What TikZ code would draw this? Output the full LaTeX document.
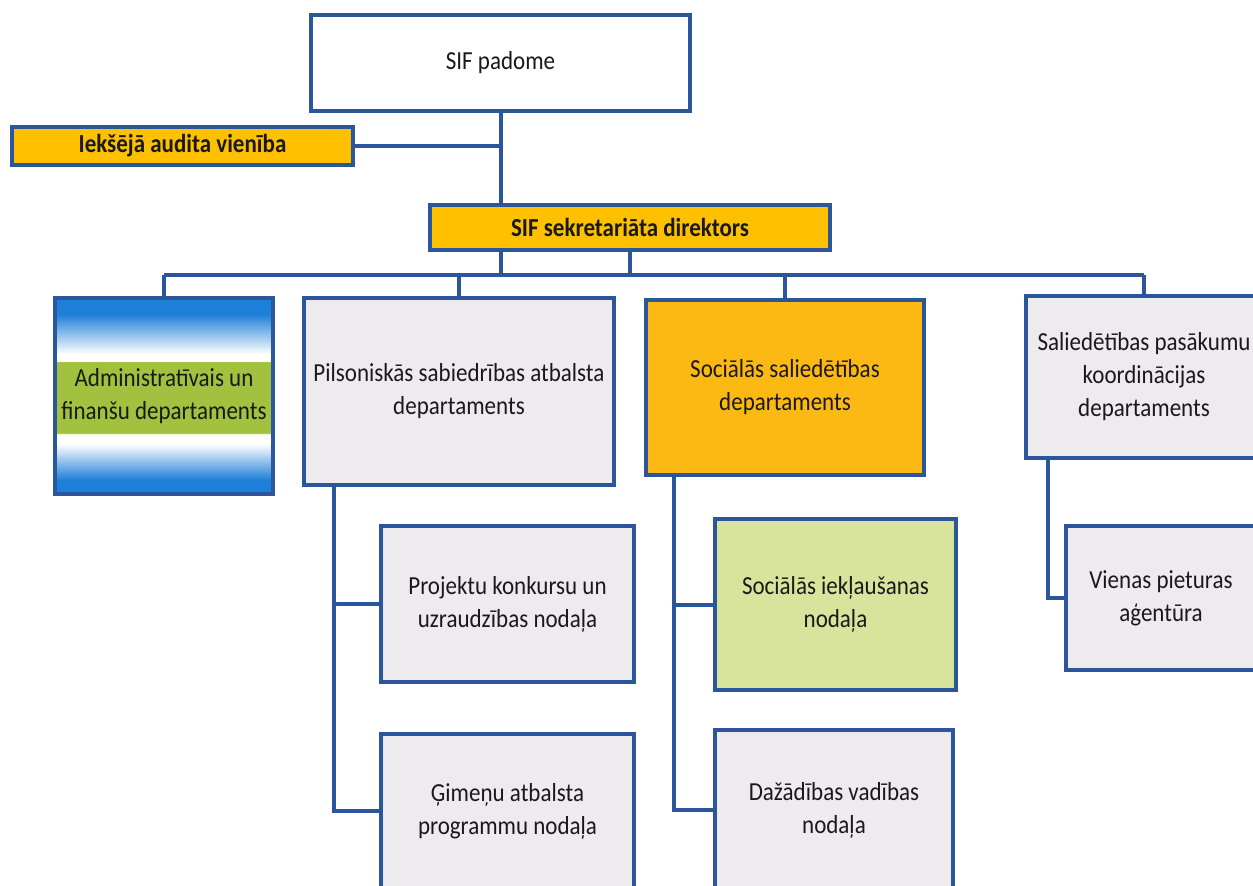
\documentclass[tikz,border=0pt]{standalone}
\usepackage{fontspec}
\setmainfont{Carlito}[FakeStretch=0.885]
\definecolor{lineblue}{HTML}{2B569B}
\definecolor{orangef}{HTML}{FFC000}
\definecolor{orangeg}{HTML}{FDB913}
\definecolor{grayf}{HTML}{EEEBEF}
\definecolor{limef}{HTML}{D8E49C}
\definecolor{ablue}{HTML}{1E7FD8}
\definecolor{agreen}{HTML}{A2C23F}
\pgfdeclareverticalshading{adminshade}{100bp}{color(0bp)=(ablue); color(28.6bp)=(ablue); color(37.8bp)=(white); color(40.3bp)=(white); color(40.6bp)=(agreen); color(58.7bp)=(agreen); color(58.9bp)=(white); color(60.7bp)=(white); color(70.9bp)=(ablue); color(100bp)=(ablue)}
\tikzset{
  box/.style={draw=lineblue, line width=3.5pt, rectangle, inner sep=2pt, align=center, text=black!90,
    font=\fontsize{26}{33}\selectfont},
  conn/.style={draw=lineblue, line width=4pt}
}
\begin{document}
\begin{tikzpicture}[x=1pt,y=-1pt]
\useasboundingbox (0,0) rectangle (1253,886);
\clip (0,0) rectangle (1253,886);
\node[box, fill=white, minimum width=379pt, minimum height=96pt] (pad) at (500.5,63) {SIF padome};
\node[box, fill=orangef, minimum width=341pt, minimum height=38pt, font=\fontsize{26}{33}\selectfont\bfseries] (aud) at (182.5,146) {Iekšējā audita vienība};
\node[box, fill=orangef, minimum width=400pt, minimum height=45pt, font=\fontsize{26}{33}\selectfont\bfseries] (dir) at (630,227.5) {SIF sekretariāta direktors};
\node[box, shading=adminshade, minimum width=218pt, minimum height=196pt] (adm) at (164,396) {Administratīvais un\\finanšu departaments};
\node[box, fill=grayf, minimum width=310pt, minimum height=187pt] (pil) at (459,391.5) {Pilsoniskās sabiedrības atbalsta\\departaments};
\node[box, fill=orangeg, minimum width=278pt, minimum height=175pt] (soc) at (785,387.5) {Sociālās saliedētības\\departaments};
\node[box, fill=grayf, minimum width=236pt, minimum height=162pt] (sal) at (1144,377) {Saliedētības pasākumu\\koordinācijas\\departaments};
\node[box, fill=grayf, minimum width=253pt, minimum height=156pt] (pro) at (507.5,604) {Projektu konkursu un\\uzraudzības nodaļa};
\node[box, fill=grayf, minimum width=253pt, minimum height=154pt] (gim) at (507.5,811) {Ģimeņu atbalsta\\programmu nodaļa};
\node[box, fill=limef, minimum width=241pt, minimum height=171pt] (sii) at (835.5,604.5) {Sociālās iekļaušanas\\nodaļa};
\node[box, fill=grayf, minimum width=238pt, minimum height=160pt] (daz) at (834,810) {Dažādības vadības\\nodaļa};
\node[box, fill=grayf, minimum width=190pt, minimum height=144pt] (vie) at (1161,598) {Vienas pieturas\\aģentūra};
\coordinate (bus) at (0,275);
\coordinate (pilx) at (334,0);
\coordinate (socx) at (674,0);
\coordinate (salx) at (1048,0);
\draw[conn] (pad.south) -- (pad.south |- dir.north);
\draw[conn] (aud.east) -- (aud.east -| pad.south);
\draw[conn] (pad.south |- dir.south) -- (pad.south |- bus);
\draw[conn] (dir.south) -- (dir.south |- bus);
\draw[conn] (adm.north |- bus) -- (sal.north |- bus);
\draw[conn] (adm.north |- bus) -- (adm.north);
\draw[conn] (pil.north |- bus) -- (pil.north);
\draw[conn] (soc.north |- bus) -- (soc.north);
\draw[conn] (sal.north |- bus) -- (sal.north);
\draw[conn] (pilx |- pil.south) -- (pilx |- gim.west) -- (gim.west);
\draw[conn] (pilx |- pro.west) -- (pro.west);
\draw[conn] (socx |- soc.south) -- (socx |- daz.west) -- (daz.west);
\draw[conn] (socx |- sii.west) -- (sii.west);
\draw[conn] (salx |- sal.south) -- (salx |- vie.west) -- (vie.west);
\end{tikzpicture}
\end{document}
